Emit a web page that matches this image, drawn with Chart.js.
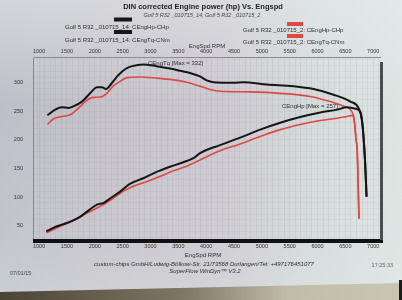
<!DOCTYPE html>
<html><head><meta charset="utf-8">
<script src="https://cdn.jsdelivr.net/npm/chart.js@4.4.1/dist/chart.umd.min.js"></script>
<style>
html,body{margin:0;padding:0;background:#d3d3d8;}
#wrap{position:relative;width:402px;height:300px;overflow:hidden;}
canvas{display:block;}
</style></head><body>
<div id="wrap"><canvas id="c" width="402" height="300"></canvas></div>
<script>
// ---- data ----
const xTicks = [1000,1500,2000,2500,3000,3500,4000,4500,5000,5500,6000,6500,7000];
const yTicks = [50,100,150,200,250,300];

// run _14 (black) torque, Nm
const rpm14Tq = [1160,1290,1410,1530,1620,1770,1920,2040,2130,2200,2310,2420,2550,2670,2870,3110,3350,3530,3710,3890,4010,4130,4490,4670,5090,5570,5930,6290,6590,6735,6796,6830,6855,6880];
const tq14    = [244, 253, 257, 256, 259, 267, 282, 292, 292, 289, 300, 313, 324, 329, 332, 329, 325, 321, 317, 311, 304, 301, 300, 301, 297, 294, 289, 279, 267, 256, 235, 200, 160, 102];
// run _14 (black) power, hp
const rpm14Hp = [1140,1320,1560,1740,1920,2040,2160,2280,2460,2630,2870,3110,3350,3590,3770,3890,4250,4610,4970,5330,5690,6050,6350,6530,6700,6765,6800,6830,6855,6880];
const hp14    = [41,  49,  57,  66,  79,  87,  90,  98,  110, 123, 133, 144, 153, 161, 168, 177, 191, 204, 218, 230, 240, 248, 253, 257, 254, 250, 234, 200, 160, 102];
// run _2 (red) torque, Nm
const rpm2Tq = [1160,1260,1410,1560,1710,1830,1950,2100,2220,2330,2450,2580,2810,3110,3410,3650,3890,4070,4250,4790,5390,5870,6230,6470,6625,6660,6693,6712,6745];
const tq2    = [228, 237, 241, 244, 256, 267, 274, 275, 282, 294, 302, 309, 310, 308, 305, 301, 294, 288, 285, 284, 281, 276, 267, 259, 248, 235, 200, 183, 63];
// run _2 (red) power, hp
const rpm2Hp = [1140,1380,1620,1860,2040,2160,2330,2510,2690,2930,3170,3410,3650,3890,4250,4610,4970,5330,5690,6050,6350,6530,6625,6660,6693,6712,6745];
const hp2    = [38,  49,  59,  72,  81,  87,  98,  110, 119, 127, 136, 146, 154, 165, 181, 193, 206, 218, 227, 234, 238, 241, 243, 233, 200, 183, 63];

const pts = (xs, ys) => xs.map((x, i) => ({x: x, y: ys[i]}));

const BLACK = '#161616', RED = '#dc4a44';
const FONT = '"Liberation Sans", Arial, sans-serif';
const X_MIN = 890, X_MAX = 7140, Y_MIN = 25, Y_MAX = 345;

const deco = {
  id: 'deco',
  beforeDraw(chart) {
    const ctx = chart.ctx, W = chart.width, H = chart.height;
    ctx.save();
    let g = ctx.createLinearGradient(0, 0, W, 0);
    g.addColorStop(0, '#bcc0c6');
    g.addColorStop(0.25, '#c5c2c9');
    g.addColorStop(0.55, '#ccc8cf');
    g.addColorStop(0.8, '#d6dcdc');
    g.addColorStop(1, '#dce4e2');
    ctx.fillStyle = g; ctx.fillRect(0, 0, W, H);
    let v = ctx.createLinearGradient(0, 0, 0, H);
    v.addColorStop(0, 'rgba(235,240,242,0.45)');
    v.addColorStop(0.35, 'rgba(235,240,242,0.0)');
    v.addColorStop(0.8, 'rgba(230,236,236,0.15)');
    v.addColorStop(1, 'rgba(230,236,236,0.35)');
    ctx.fillStyle = v; ctx.fillRect(0, 0, W, H);
    // table surface below the paper
    let b = ctx.createLinearGradient(0, 0, W, 0);
    b.addColorStop(0, '#4c4337');
    b.addColorStop(0.45, '#7d7564');
    b.addColorStop(0.72, '#c0bea8');
    b.addColorStop(1, '#c8c6b1');
    ctx.fillStyle = b;
    ctx.beginPath(); ctx.moveTo(0, 292); ctx.lineTo(W, 283); ctx.lineTo(W, H); ctx.lineTo(0, H); ctx.closePath(); ctx.fill();
    ctx.fillStyle = '#1c1c1c'; ctx.fillRect(399, 280, 3, 20);
    ctx.restore();
  },
  beforeDatasetsDraw(chart) {
    const ctx = chart.ctx, a = chart.chartArea;
    ctx.save();
    ctx.strokeStyle = '#8a8a90'; ctx.lineWidth = 1;
    ctx.beginPath();
    ctx.moveTo(a.left + 0.5, a.bottom); ctx.lineTo(a.left + 0.5, a.top + 0.5); ctx.lineTo(a.right, a.top + 0.5);
    ctx.stroke();
    ctx.fillStyle = '#111'; ctx.fillRect(a.left, a.bottom - 1, a.right - a.left + 2, 4);
    ctx.fillStyle = '#4a4d50'; ctx.fillRect(a.right - 1, a.top + 5, 3, a.bottom - a.top - 5);
    ctx.restore();
  },
  afterDraw(chart) {
    const ctx = chart.ctx;
    ctx.save();
    ctx.textBaseline = 'middle';
    const t = (s, x, y, font, align, color) => {
      ctx.font = font; ctx.textAlign = align || 'left'; ctx.fillStyle = color || '#2e2e2e';
      ctx.fillText(s, x, y);
    };
    t('DIN corrected Engine power (hp) Vs. Engspd', 203, 6.5, 'bold 7.5px ' + FONT, 'center', '#1e1e1e');
    t('Golf 5 R32 _010715_14, Golf 5 R32 _010715_2', 202, 15, 'italic 5.5px ' + FONT, 'center', '#444');
    // legend
    ctx.fillStyle = BLACK; ctx.fillRect(114, 17.5, 18, 4); ctx.fillRect(114, 30, 18, 4);
    ctx.fillStyle = RED; ctx.fillRect(287, 22, 16, 4); ctx.fillRect(287, 34, 16, 4);
    t('Golf 5 R32 _010715_14: CEngHp-CHp', 65, 27, '6px ' + FONT);
    t('Golf 5 R32 _010715_14: CEngTq-CNm', 65, 40, '6px ' + FONT);
    t('Golf 5 R32 _010715_2: CEngHp-CHp', 243, 30, '6px ' + FONT);
    t('Golf 5 R32 _010715_2: CEngTq-CNm', 243, 42.7, '6px ' + FONT);
    // axis titles
    t('EngSpd RPM', 207, 46.5, '6px ' + FONT, 'center');
    t('EngSpd RPM', 203, 255, '6px ' + FONT, 'center');
    // annotations
    t('CEngTq [Max = 332]', 148, 63.5, '6px ' + FONT);
    t('CEngHp [Max = 257]', 282, 106.5, '6px ' + FONT);
    // footer
    t('custom-chips GmbH/Ludwig-Bölkow-Str. 21/73568 Durlangen/Tel: +497176451077', 204, 264, 'italic 6px ' + FONT, 'center');
    t('SuperFlow WinDyn™ V3.2', 205, 271.5, 'italic 6px ' + FONT, 'center');
    t('07/01/15', 10, 273.5, '5.5px ' + FONT, 'left', '#444');
    t('17:25:33', 393, 265.5, '5.5px ' + FONT, 'right', '#666');
    ctx.restore();
  }
};

const tickFont = {family: FONT, size: 5.5};
const majorX = s => { s.ticks = xTicks.map(v => ({value: v})); };
const majorY = s => { s.ticks = yTicks.map(v => ({value: v})); };

new Chart(document.getElementById('c'), {
  type: 'line',
  data: {
    datasets: [
      {label: 'Golf 5 R32 _010715_14: CEngHp-CHp', data: pts(rpm14Hp, hp14), borderColor: BLACK, borderWidth: 2},
      {label: 'Golf 5 R32 _010715_14: CEngTq-CNm', data: pts(rpm14Tq, tq14), borderColor: BLACK, borderWidth: 2},
      {label: 'Golf 5 R32 _010715_2: CEngHp-CHp', data: pts(rpm2Hp, hp2), borderColor: RED, borderWidth: 1.6},
      {label: 'Golf 5 R32 _010715_2: CEngTq-CNm', data: pts(rpm2Tq, tq2), borderColor: RED, borderWidth: 1.6}
    ]
  },
  options: {
    responsive: false, animation: false, devicePixelRatio: 1,
    layout: {padding: {left: 0, right: 21, top: 0, bottom: 0}},
    plugins: {legend: {display: false}, title: {display: false}, tooltip: {enabled: false}},
    elements: {point: {radius: 0}, line: {cubicInterpolationMode: 'monotone', borderCapStyle: 'round', borderJoinStyle: 'round', fill: false}},
    scales: {
      x: {type: 'linear', position: 'bottom', min: X_MIN, max: X_MAX,
          afterBuildTicks: majorX, afterFit: s => { s.height = 60; },
          grid: {display: false, drawTicks: false}, border: {display: false},
          ticks: {autoSkip: false, maxRotation: 0, padding: 3, font: tickFont, color: '#333', callback: v => String(v)}},
      x2: {type: 'linear', position: 'top', min: X_MIN, max: X_MAX,
          afterBuildTicks: majorX, afterFit: s => { s.height = 57; },
          grid: {display: false, drawTicks: false}, border: {display: false},
          ticks: {autoSkip: false, maxRotation: 0, padding: 2, font: tickFont, color: '#333', callback: v => String(v)}},
      y: {type: 'linear', position: 'left', min: Y_MIN, max: Y_MAX,
          afterBuildTicks: majorY, afterFit: s => { s.width = 33; },
          grid: {display: false, drawTicks: false}, border: {display: false},
          ticks: {autoSkip: false, padding: 10, font: tickFont, color: '#333', callback: v => String(v)}},
      xg: {type: 'linear', position: 'bottom', min: X_MIN, max: X_MAX,
          afterBuildTicks: s => { const a = []; for (let v = 900; v <= 7100; v += 100) a.push({value: v}); s.ticks = a; },
          afterFit: s => { s.height = 0; },
          grid: {color: 'rgba(120,115,130,0.11)', lineWidth: 1, drawTicks: false}, border: {display: false},
          ticks: {display: false}},
      yg: {type: 'linear', position: 'left', min: Y_MIN, max: Y_MAX,
          afterBuildTicks: s => { const a = []; for (let v = 30; v <= 340; v += 10) a.push({value: v}); s.ticks = a; },
          afterFit: s => { s.width = 0; },
          grid: {color: 'rgba(120,115,130,0.05)', lineWidth: 1, drawTicks: false}, border: {display: false},
          ticks: {display: false}}
    }
  },
  plugins: [deco]
});
</script>
</body></html>
